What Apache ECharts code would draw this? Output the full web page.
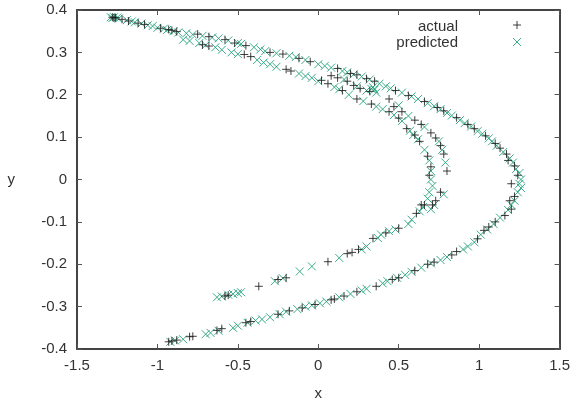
<!DOCTYPE html>
<html>
<head>
<meta charset="utf-8">
<script src="https://cdn.jsdelivr.net/npm/echarts@6/dist/echarts.min.js"></script>
<style>
  html, body { margin: 0; padding: 0; background: #fff; }
  #main { width: 573px; height: 406px; }
</style>
</head>
<body>
<div id="main"></div>
<script>
// tick labels
var xTicks = [-1.5, -1, -0.5, 0, 0.5, 1, 1.5];
var yTicks = [-0.4, -0.3, -0.2, -0.1, 0, 0.1, 0.2, 0.3, 0.4];

// "actual" points
var actualTop = [[-1.28,0.383],[-1.27,0.381],[-1.26,0.382],[-1.22,0.378],[-1.18,0.374],[-1.12,0.369],[-1.08,0.366],[-0.98,0.357],[-0.93,0.354],[-0.91,0.352],[-0.88,0.349]];
var actualOuter = [[-0.75,0.343],[-0.68,0.337],[-0.58,0.33],[-0.52,0.322],[-0.45,0.316],[-0.3,0.3],[-0.22,0.296],[-0.12,0.286],[-0.05,0.278],[0.12,0.262],[0.2,0.25],[0.24,0.247],[0.3,0.238],[0.35,0.232],[0.48,0.21],[0.56,0.198],[0.66,0.184],[0.74,0.17],[0.78,0.162],[0.86,0.146],[0.93,0.13],[0.97,0.12],[1.04,0.103],[1.1,0.085],[1.13,0.074],[1.17,0.06],[1.18,0.045],[1.22,0.032],[1.24,0.01],[1.2,-0.01],[1.22,-0.04],[1.19,-0.05],[1.2,-0.07],[1.16,-0.085],[1.1,-0.1],[1.06,-0.112],[1.03,-0.12],[0.99,-0.14],[0.86,-0.17],[0.83,-0.178],[0.72,-0.195],[0.68,-0.2],[0.6,-0.215],[0.5,-0.232],[0.46,-0.236],[0.36,-0.252],[0.24,-0.265],[0.16,-0.275],[0.1,-0.282],[0.08,-0.284],[-0.02,-0.295],[-0.1,-0.303],[-0.18,-0.31],[-0.25,-0.318],[-0.42,-0.335],[-0.45,-0.338],[-0.6,-0.352],[-0.63,-0.356],[-0.78,-0.37],[-0.8,-0.371],[-0.88,-0.379],[-0.91,-0.381],[-0.93,-0.383]];
var actualInner = [[-0.72,0.318],[-0.68,0.315],[-0.46,0.295],[-0.42,0.29],[-0.2,0.26],[-0.17,0.256],[0.02,0.234],[0.06,0.226],[0.15,0.21],[0.24,0.19],[0.33,0.178],[0.44,0.16],[0.5,0.145],[0.55,0.12],[0.6,0.105],[0.63,0.09],[0.68,0.055],[0.7,0.03],[0.69,0.01],[0.66,-0.06],[0.64,-0.06],[0.61,-0.08],[0.5,-0.115],[0.42,-0.126],[0.34,-0.139],[0.25,-0.165],[0.21,-0.172],[0.18,-0.175],[0.06,-0.194],[-0.2,-0.232],[-0.25,-0.236],[-0.37,-0.252],[-0.56,-0.273],[-0.58,-0.275]];
var actualMiddle = [[0.08,0.245],[0.12,0.24],[0.18,0.232],[0.22,0.222],[0.26,0.215],[0.32,0.208],[0.44,0.19],[0.47,0.172],[0.52,0.16],[0.6,0.14],[0.64,0.13],[0.7,0.11],[0.73,0.098],[0.76,0.08],[0.78,0.06],[0.8,0.02],[0.76,-0.03],[0.73,-0.05],[0.71,-0.06]];

// "predicted" points
var predTop = [[-1.29,0.383],[-1.28,0.381],[-1.27,0.383],[-1.25,0.382],[-1.24,0.38],[-1.19,0.376],[-1.16,0.373],[-1.14,0.371],[-1.1,0.368],[-1.06,0.364],[-1.03,0.362],[-1.0,0.358],[-0.96,0.356],[-0.94,0.353],[-0.9,0.35],[-0.87,0.347]];
var predOuter = [[-0.82,0.345],[-0.78,0.342],[-0.72,0.339],[-0.66,0.335],[-0.62,0.333],[-0.56,0.328],[-0.5,0.322],[-0.48,0.32],[-0.4,0.312],[-0.36,0.307],[-0.33,0.303],[-0.26,0.298],[-0.18,0.292],[-0.14,0.289],[-0.08,0.282],[0.0,0.272],[0.04,0.268],[0.08,0.264],[0.15,0.256],[0.18,0.253],[0.22,0.248],[0.27,0.243],[0.32,0.236],[0.38,0.226],[0.42,0.22],[0.45,0.215],[0.52,0.205],[0.58,0.196],[0.62,0.19],[0.68,0.18],[0.72,0.173],[0.76,0.166],[0.8,0.157],[0.83,0.151],[0.88,0.14],[0.91,0.133],[0.95,0.125],[0.99,0.114],[1.02,0.108],[1.06,0.097],[1.08,0.09],[1.11,0.08],[1.15,0.065],[1.19,0.05],[1.21,0.04],[1.23,0.025],[1.25,0.015],[1.26,0.0],[1.25,-0.01],[1.26,-0.02],[1.24,-0.03],[1.22,-0.05],[1.2,-0.06],[1.18,-0.072],[1.13,-0.09],[1.09,-0.105],[1.05,-0.118],[1.01,-0.13],[0.97,-0.148],[0.93,-0.158],[0.9,-0.165],[0.8,-0.183],[0.76,-0.19],[0.7,-0.198],[0.64,-0.208],[0.58,-0.218],[0.54,-0.225],[0.49,-0.232],[0.43,-0.24],[0.4,-0.245],[0.3,-0.258],[0.27,-0.262],[0.2,-0.27],[0.13,-0.278],[0.05,-0.288],[0.01,-0.292],[-0.04,-0.297],[-0.08,-0.3],[-0.13,-0.306],[-0.2,-0.312],[-0.24,-0.318],[-0.3,-0.325],[-0.35,-0.33],[-0.39,-0.333],[-0.44,-0.338],[-0.5,-0.345],[-0.53,-0.35],[-0.62,-0.357],[-0.67,-0.362],[-0.7,-0.365],[-0.84,-0.377],[-0.89,-0.38],[-0.92,-0.383]];
var predInner = [[-0.84,0.33],[-0.8,0.327],[-0.74,0.322],[-0.7,0.317],[-0.64,0.312],[-0.6,0.306],[-0.54,0.3],[-0.5,0.296],[-0.38,0.282],[-0.34,0.276],[-0.3,0.272],[-0.26,0.266],[-0.12,0.25],[-0.08,0.244],[-0.04,0.24],[0.0,0.232],[0.1,0.218],[0.13,0.213],[0.19,0.2],[0.28,0.185],[0.36,0.172],[0.4,0.166],[0.47,0.152],[0.52,0.138],[0.57,0.115],[0.59,0.105],[0.62,0.095],[0.66,0.07],[0.69,0.045],[0.7,0.02],[0.7,0.0],[0.71,-0.015],[0.69,-0.03],[0.68,-0.045],[0.65,-0.065],[0.63,-0.075],[0.58,-0.095],[0.56,-0.105],[0.48,-0.118],[0.44,-0.122],[0.39,-0.13],[0.37,-0.138],[0.3,-0.158],[0.27,-0.165],[0.13,-0.185],[-0.04,-0.205],[-0.115,-0.217],[-0.22,-0.233],[-0.27,-0.24],[-0.48,-0.266],[-0.5,-0.268],[-0.53,-0.27],[-0.56,-0.272],[-0.6,-0.276],[-0.63,-0.278]];
var predMiddle = [[0.16,0.236],[0.24,0.22],[0.3,0.21],[0.33,0.214],[0.34,0.218],[0.35,0.212],[0.36,0.205],[0.5,0.175],[0.56,0.15],[0.66,0.124],[0.75,0.09],[0.77,0.07],[0.79,0.04],[0.78,-0.035],[0.72,-0.06],[0.7,-0.07]];

var actual = actualTop.concat(actualOuter, actualInner, actualMiddle);
var predicted = predTop.concat(predOuter, predInner, predMiddle);

var font = '"Liberation Sans", Arial, sans-serif';
var textColor = '#333';
var plusColor = 'rgba(31,31,31,0.85)';
var crossColor = 'rgba(26,158,119,0.85)';

var chart = echarts.init(document.getElementById('main'));

// gnuplot style point marks drawn as thin lines
function plusLines(cx, cy, h) {
  return [
    { type: 'line', shape: { x1: cx - h, y1: cy, x2: cx + h, y2: cy }, style: { stroke: plusColor, lineWidth: 1 } },
    { type: 'line', shape: { x1: cx, y1: cy - h, x2: cx, y2: cy + h }, style: { stroke: plusColor, lineWidth: 1 } }
  ];
}
function crossLines(cx, cy, h) {
  return [
    { type: 'line', shape: { x1: cx - h, y1: cy - h, x2: cx + h, y2: cy + h }, style: { stroke: crossColor, lineWidth: 1 } },
    { type: 'line', shape: { x1: cx - h, y1: cy + h, x2: cx + h, y2: cy - h }, style: { stroke: crossColor, lineWidth: 1 } }
  ];
}
function markRenderer(kind) {
  return function (params, api) {
    var p = api.coord([api.value(0), api.value(1)]);
    var kids = kind === 'plus' ? plusLines(p[0], p[1], 4) : crossLines(p[0], p[1], 4);
    return { type: 'group', children: kids };
  };
}

function frameLine() { return { show: true, onZero: false, lineStyle: { color: '#444', width: 2 } }; }
function frameTick() { return { show: true, inside: true, length: 5, lineStyle: { color: '#555', width: 1 } }; }
var labelStyle = { fontFamily: font, fontSize: 15, color: textColor };

var option = {
  animation: false,
  grid: { left: 77, top: 10, right: 13, bottom: 50 },
  xAxis: [{
    type: 'value', min: -1.5, max: 1.5, interval: 0.5,
    axisLine: frameLine(), axisTick: frameTick(), splitLine: { show: false },
    axisLabel: {
      fontFamily: font, fontSize: 15, color: textColor, margin: 9,
      formatter: function (v) { return xTicks.indexOf(v) >= 0 ? String(v) : ''; }
    },
    name: 'x', nameLocation: 'middle', nameGap: 37, nameTextStyle: labelStyle
  }, {
    type: 'value', min: -1.5, max: 1.5, interval: 0.5, position: 'top',
    axisLine: frameLine(), axisTick: frameTick(), splitLine: { show: false },
    axisLabel: { show: false }
  }],
  yAxis: [{
    type: 'value', min: -0.4, max: 0.4, interval: 0.1,
    axisLine: frameLine(), axisTick: frameTick(), splitLine: { show: false },
    axisLabel: {
      fontFamily: font, fontSize: 15, color: textColor, margin: 10,
      formatter: function (v) {
        var r = Math.round(v * 10) / 10;
        return yTicks.indexOf(r) >= 0 ? String(r) : '';
      }
    },
    name: 'y', nameLocation: 'middle', nameGap: 62, nameRotate: 0, nameTextStyle: labelStyle
  }, {
    type: 'value', min: -0.4, max: 0.4, interval: 0.1, position: 'right',
    axisLine: frameLine(), axisTick: frameTick(), splitLine: { show: false },
    axisLabel: { show: false }
  }],
  legend: [
    {
      data: ['actual'], right: 50, top: 19, padding: 0, align: 'right',
      itemWidth: 60, itemHeight: 8, itemGap: 0,
      itemStyle: { color: 'rgba(0,0,0,0)', borderWidth: 0 },
      textStyle: labelStyle
    },
    {
      data: ['predicted'], right: 50, top: 35, padding: 0, align: 'right',
      itemWidth: 60, itemHeight: 9, itemGap: 0,
      itemStyle: { color: 'rgba(0,0,0,0)', borderWidth: 0 },
      textStyle: labelStyle
    }
  ],
  // legend samples
  graphic: [
    { type: 'group', children: plusLines(517, 25, 4) },
    { type: 'group', children: crossLines(517, 42, 4) }
  ],
  series: [
    {
      name: 'actual', type: 'custom', data: actual,
      encode: { x: 0, y: 1 },
      renderItem: markRenderer('plus'),
      z: 3
    },
    {
      name: 'predicted', type: 'custom', data: predicted,
      encode: { x: 0, y: 1 },
      renderItem: markRenderer('cross'),
      z: 2
    }
  ]
};

chart.setOption(option);
window.addEventListener('resize', function () { chart.resize(); });
</script>
</body>
</html>
